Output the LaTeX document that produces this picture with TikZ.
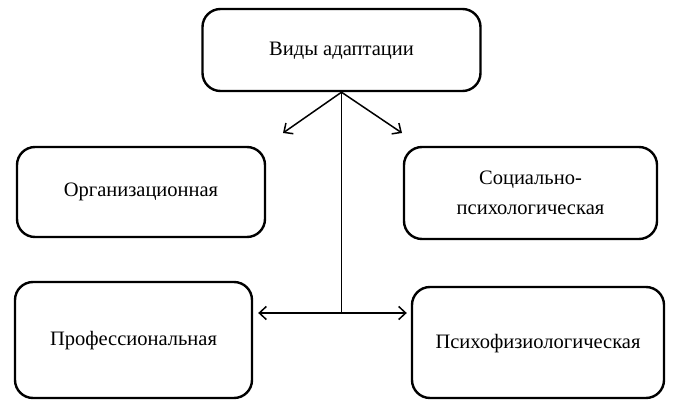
\documentclass[tikz,border=0pt]{standalone}
\usepackage{fontspec}
\setmainfont{Liberation Serif}
\usetikzlibrary{arrows.meta}
\newcommand{\liftbox}[2]{\raisebox{#1}{\begin{tabular}{@{}c@{}}#2\end{tabular}}}
\begin{document}
\begin{tikzpicture}[x=1pt,y=-1pt,
  box/.style={draw, line width=2.4pt, rounded corners=18pt, inner sep=0pt,
    font=\fontsize{20.5}{30}\selectfont},
  conn/.style={line width=1.5pt},
  arr/.style={conn, -{Straight Barb[length=7pt,width=13pt]}}]
\useasboundingbox (0,0) rectangle (675,412);
\node[box, minimum width=278pt, minimum height=82pt] (top) at (341.5,50) {\liftbox{10pt}{Виды адаптации}};
\node[box, minimum width=248pt, minimum height=90pt] (ml) at (141,192) {\liftbox{12pt}{Организационная}};
\node[box, minimum width=253pt, minimum height=92pt] (mr) at (530.5,193) {\liftbox{9pt}{Социально-\\психологическая}};
\node[box, minimum width=237pt, minimum height=116pt] (bl) at (133.5,340) {\liftbox{11pt}{Профессиональная}};
\node[box, minimum width=252pt, minimum height=111pt] (br) at (538,342.5) {\liftbox{9pt}{Психофизиологическая}};
\coordinate (j) at (341.5,313);
\coordinate (dl) at (283,133);
\coordinate (dr) at (402,133);
\draw[conn] (top.south) -- (j);
\draw[arr] (top.south) -- (dl);
\draw[arr] (top.south) -- (dr);
\draw[arr, shorten >=5pt] (j) -- (bl.east |- j);
\draw[arr, shorten >=4pt] (j) -- (br.west |- j);
\end{tikzpicture}
\end{document}
